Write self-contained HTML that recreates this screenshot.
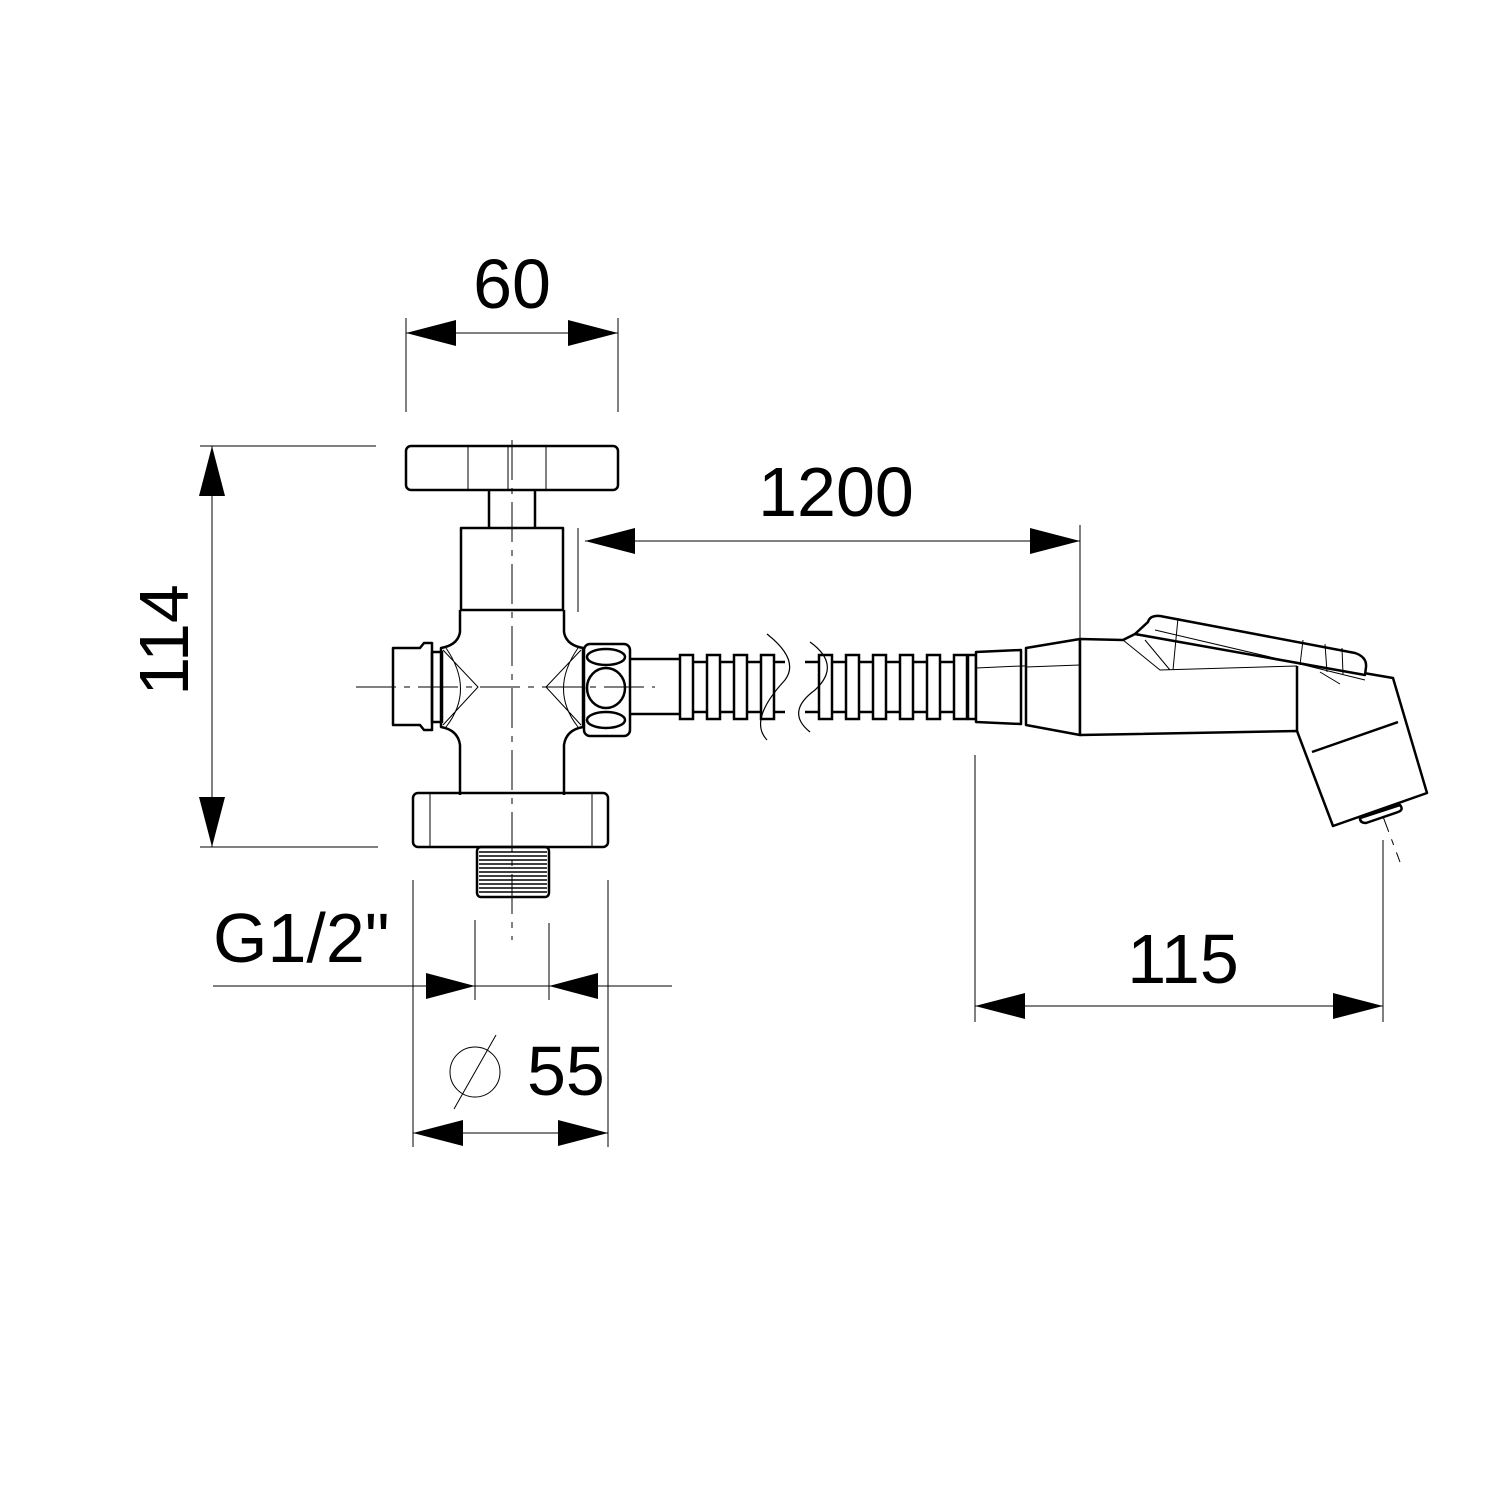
<!DOCTYPE html>
<html><head><meta charset="utf-8"><style>
html,body{margin:0;padding:0;background:#fff}
svg{display:block}
text{font-family:"Liberation Sans",Arial,sans-serif;fill:#000}
</style></head><body>
<svg width="1500" height="1500" viewBox="0 0 1500 1500" xmlns="http://www.w3.org/2000/svg">
<rect width="1500" height="1500" fill="#fff"/>
<g stroke="#000" stroke-width="1" fill="none">
 <line x1="406" y1="318" x2="406" y2="412"/>
 <line x1="618" y1="318" x2="618" y2="412"/>
 <line x1="406" y1="333" x2="618" y2="333"/>
 <line x1="200" y1="446" x2="376" y2="446"/>
 <line x1="200" y1="847" x2="378" y2="847"/>
 <line x1="212" y1="446" x2="212" y2="847"/>
 <line x1="578" y1="528" x2="578" y2="612"/>
 <line x1="1080" y1="525" x2="1080" y2="638"/>
 <line x1="585" y1="541" x2="1080" y2="541"/>
 <line x1="213" y1="986" x2="672" y2="986"/>
 <line x1="475" y1="920" x2="475" y2="1000"/>
 <line x1="549" y1="923" x2="549" y2="1000"/>
 <line x1="413" y1="880" x2="413" y2="1147"/>
 <line x1="608" y1="880" x2="608" y2="1147"/>
 <line x1="413" y1="1133" x2="608" y2="1133"/>
 <circle cx="475" cy="1072" r="25"/>
 <line x1="454" y1="1109" x2="496" y2="1035"/>
 <line x1="975" y1="755" x2="975" y2="1022"/>
 <line x1="1383" y1="840" x2="1383" y2="1022"/>
 <line x1="975" y1="1006" x2="1383" y2="1006"/>
 <line x1="512" y1="440" x2="512" y2="940" stroke-dasharray="40,8,6,8"/>
 <line x1="356" y1="687" x2="655" y2="687" stroke-dasharray="40,8,6,8"/>
 <line x1="1360" y1="755" x2="1400" y2="862" stroke-dasharray="30,8,6,8"/>
 <line x1="1022" y1="666" x2="1080" y2="664"/>
</g>
<g fill="#000">
 <polygon points="406,333 456,320 456,346"/>
 <polygon points="618,333 568,320 568,346"/>
 <polygon points="212,446 199,496 225,496"/>
 <polygon points="212,847 199,797 225,797"/>
 <polygon points="585,541 635,528 635,554"/>
 <polygon points="1080,541 1030,528 1030,554"/>
 <polygon points="475,986 426,973 426,999"/>
 <polygon points="549,986 598,973 598,999"/>
 <polygon points="413,1133 463,1120 463,1146"/>
 <polygon points="608,1133 558,1120 558,1146"/>
 <polygon points="975,1006 1025,993 1025,1019"/>
 <polygon points="1383,1006 1333,993 1333,1019"/>
</g>
<text x="512" y="308" font-size="70" text-anchor="middle">60</text>
<text x="836" y="516" font-size="70" text-anchor="middle">1200</text>
<text x="1183" y="983" font-size="70" text-anchor="middle">115</text>
<text x="213" y="962" font-size="70">G1/2"</text>
<text x="527" y="1095" font-size="70">55</text>
<text transform="translate(188,640) rotate(-90)" font-size="70" text-anchor="middle">114</text>
<g stroke="#000" stroke-width="2.5" fill="none" stroke-linejoin="round">
 <rect x="406" y="446" width="212" height="44" rx="5"/>
 <path d="M489,490 V528 M535,490 V528"/>
 <rect x="461" y="528" width="102" height="82"/>
 <path d="M460,610 V632 Q458,645 441,648 V727 Q458,730 460,745 V795"/>
 <path d="M564,610 V632 Q566,645 583,648 V727 Q566,730 564,745 V795"/>
 <path d="M393,648 H420 L424,643 H432 V730 H424 L420,725 H393 Z"/>
 <rect x="432" y="652" width="10" height="70"/>
 <rect x="584" y="644" width="46" height="92" rx="6"/>
 <ellipse cx="606" cy="657" rx="19" ry="8"/>
 <ellipse cx="606" cy="688" rx="19" ry="20"/>
 <ellipse cx="606" cy="720" rx="19" ry="8"/>
 <path d="M630,659 H680 M630,714 H680"/>
 <rect x="413" y="793" width="195" height="54" rx="5"/>
 <rect x="477" y="847" width="72" height="50" rx="4"/>
</g>
<g stroke="#000" stroke-width="1" fill="none">
 <path d="M468,446 V490 M508,446 V490 M546,446 V490"/>
 <path d="M446,648 Q475,690 446,727 M443,650 L478,687 L443,725"/>
 <path d="M578,648 Q549,690 578,727 M581,650 L546,687 L581,725"/>
 <path d="M430,793 V847 M592,793 V847"/>
</g>
<g stroke="#000" stroke-width="1.6" fill="none">
 <path d="M479,852 H547 M479,856 H547 M479,860 H547 M479,864 H547 M479,868 H547 M479,872 H547 M479,876 H547 M479,880 H547 M479,884 H547 M479,888 H547 M479,892 H547"/>
</g>
<g stroke="#000" stroke-width="2.5" fill="#fff">
 <path d="M680,662 H785 M680,712 H785 M805,662 H975 M805,712 H975" fill="none"/>
 <rect x="680" y="655" width="13" height="64"/>
 <rect x="707" y="655" width="13" height="64"/>
 <rect x="734" y="655" width="13" height="64"/>
 <rect x="761" y="655" width="13" height="64"/>
 <rect x="819" y="655" width="13" height="64"/>
 <rect x="846" y="655" width="13" height="64"/>
 <rect x="873" y="655" width="13" height="64"/>
 <rect x="900" y="655" width="13" height="64"/>
 <rect x="927" y="655" width="13" height="64"/>
 <rect x="954" y="655" width="13" height="64"/>
</g>
<g stroke="#000" stroke-width="1.2" fill="none">
 <path d="M767,634 Q800,660 785,680 Q748,720 767,740"/>
 <path d="M810,642 Q842,665 815,690 Q785,712 810,732"/>
</g>
<g stroke="#000" stroke-width="2.5" fill="#fff" stroke-linejoin="round">
 <rect x="968" y="655" width="8" height="64"/>
 <path d="M976,652 L1021,650 V724 L976,722 Z"/>
 <path d="M1026,648 L1080,639 V735 L1026,725 Z"/>
 <path d="M1080,639 L1123,640 L1135,634 L1393,678 L1427,793 L1333,826 L1297,731 L1080,735 Z"/>
 <path d="M1148,622 Q1150,615 1160,616 L1355,653 Q1367,657 1366,667 L1365,675 L1135,634 Z"/>
 <path d="M1297,731 V666" fill="none"/>
 <path d="M1312,752 L1398,722" fill="none"/>
 <path d="M1360,818 L1400,805 Q1404,810 1398,812 L1366,823 Q1360,823 1360,818 Z"/>
</g>
<g stroke="#000" stroke-width="1" fill="none">
 <path d="M976,668 L1021,666 M1026,667 L1080,665"/>
 <path d="M1123,640 L1160,670 L1297,666 M1145,640 L1170,670 M1155,630 L1300,664 L1365,680 M1320,672 L1340,684"/>
 <path d="M1178,618 L1173,670 M1303,640 L1300,665 M1325,644 L1327,672 M1342,648 L1343,674"/>
</g>
</svg>
</body></html>
